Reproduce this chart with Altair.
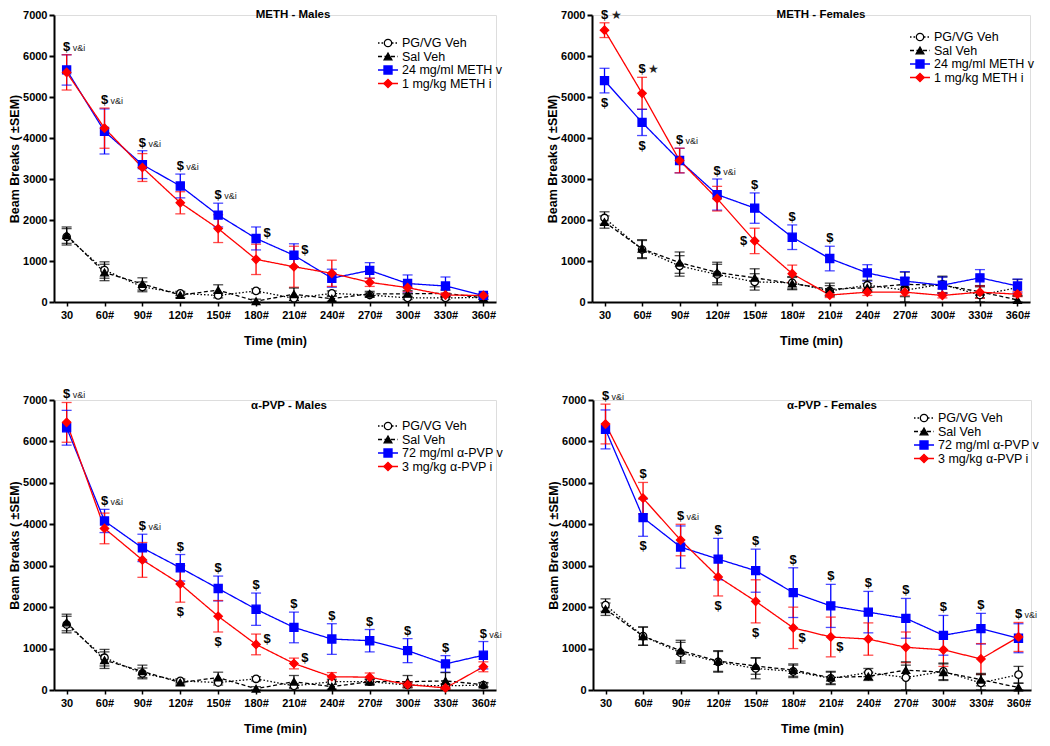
import altair as alt
import pandas as pd

times = [30, 60, 90, 120, 150, 180, 210, 240, 270, 300, 330, 360]
series_keys = ["pg", "sal", "v", "i"]

# ---------------- METH - Males ----------------
mm_pg = [1590, 780, 370, 210, 160, 270, 90, 210, 170, 100, 100, 110]
mm_pg_sem = [200, 200, 120, 50, 60, 50, 50, 60, 50, 40, 40, 40]
mm_sal = [1630, 720, 440, 170, 290, 20, 190, 80, 200, 200, 210, 100]
mm_sal_sem = [200, 200, 150, 60, 130, 50, 150, 60, 60, 80, 80, 40]
mm_v = [5660, 4160, 3350, 2830, 2120, 1550, 1140, 580, 770, 450, 390, 160]
mm_v_sem = [370, 550, 340, 290, 290, 280, 280, 220, 190, 210, 220, 40]
mm_i = [5600, 4240, 3280, 2420, 1790, 1040, 860, 700, 480, 350, 170, 160]
mm_i_sem = [430, 490, 340, 270, 340, 370, 500, 320, 100, 100, 50, 40]

# ---------------- METH - Females ----------------
mf_pg = [2050, 1280, 880, 670, 490, 470, 270, 410, 290, 430, 170, 350]
mf_pg_sem = [150, 220, 250, 250, 200, 150, 130, 120, 300, 200, 200, 200]
mf_sal = [1950, 1300, 960, 720, 590, 450, 310, 350, 430, 410, 250, 50]
mf_sal_sem = [150, 220, 260, 250, 220, 150, 150, 100, 300, 200, 150, 100]
mf_v = [5400, 4380, 3450, 2620, 2290, 1580, 1060, 710, 510, 410, 590, 390]
mf_v_sem = [300, 320, 300, 380, 370, 300, 300, 200, 230, 200, 200, 170]
mf_i = [6630, 5090, 3450, 2520, 1490, 690, 170, 240, 240, 160, 240, 190]
mf_i_sem = [180, 390, 300, 300, 310, 210, 60, 80, 80, 60, 150, 60]

# ---------------- a-PVP - Males ----------------
pm_pg = [1580, 780, 400, 220, 180, 270, 100, 200, 200, 120, 100, 120]
pm_pg_sem = [200, 200, 130, 50, 60, 50, 50, 60, 60, 50, 50, 50]
pm_sal = [1630, 720, 450, 180, 300, 30, 200, 80, 200, 200, 220, 130]
pm_sal_sem = [200, 200, 150, 60, 130, 50, 150, 60, 60, 150, 200, 50]
pm_v = [6330, 4080, 3430, 2950, 2450, 1950, 1510, 1230, 1190, 950, 630, 840]
pm_v_sem = [420, 280, 330, 320, 300, 390, 370, 370, 270, 290, 200, 330]
pm_i = [6460, 3900, 3140, 2560, 1780, 1100, 640, 320, 310, 130, 50, 560]
pm_i_sem = [480, 370, 420, 440, 380, 250, 130, 100, 100, 60, 30, 120]

# ---------------- a-PVP - Females ----------------
pf_pg = [2050, 1300, 900, 680, 520, 450, 280, 420, 300, 450, 170, 370]
pf_pg_sem = [150, 220, 250, 250, 250, 150, 150, 100, 300, 200, 200, 200]
pf_sal = [1950, 1300, 950, 700, 580, 480, 300, 330, 480, 430, 250, 60]
pf_sal_sem = [150, 220, 250, 250, 200, 150, 150, 100, 200, 200, 150, 100]
pf_v = [6290, 4160, 3450, 3160, 2880, 2350, 2030, 1880, 1730, 1320, 1480, 1250]
pf_v_sem = [470, 450, 510, 500, 520, 600, 520, 500, 480, 480, 370, 350]
pf_i = [6420, 4630, 3620, 2730, 2140, 1500, 1280, 1230, 1030, 970, 750, 1280]
pf_i_sem = [480, 380, 380, 460, 520, 500, 480, 390, 370, 400, 370, 350]

meth_labels = ["PG/VG Veh", "Sal Veh", "24 mg/ml METH v", "1 mg/kg METH i"]
pvp_labels = ["PG/VG Veh", "Sal Veh", "72 mg/ml \u03b1-PVP v", "3 mg/kg \u03b1-PVP i"]

# significance annotations: (time, anchor series, placement, suffix)
mm_ann = [(30, "i", "above", "v&i"), (60, "i", "above", "v&i"), (90, "v", "above", "v&i"),
          (120, "v", "above", "v&i"), (150, "v", "above", "v&i"),
          (180, "v", "right", ""), (210, "v", "right", "")]
mf_ann = [(30, "i", "above", "\u2605"), (60, "i", "above", "\u2605"), (30, "v", "below", ""),
          (60, "v", "below", ""), (90, "i", "above", "v&i"), (120, "v", "above", "v&i"),
          (150, "v", "above", ""), (180, "v", "above", ""), (210, "v", "above", ""),
          (150, "i", "left", "")]
pm_ann = [(30, "i", "above", "v&i"), (60, "v", "above", "v&i"), (90, "v", "above", "v&i"),
          (120, "v", "above", ""), (150, "v", "above", ""), (180, "v", "above", ""),
          (210, "v", "above", ""), (240, "v", "above", ""), (270, "v", "above", ""),
          (300, "v", "above", ""), (330, "v", "above", ""), (360, "v", "above", "v&i"),
          (120, "i", "below", ""), (150, "i", "below", ""), (180, "i", "right", ""),
          (210, "i", "right", "")]
pf_ann = [(30, "i", "above", "v&i"), (60, "i", "above", ""), (60, "v", "below", ""),
          (90, "i", "above", "v&i"), (120, "v", "above", ""), (150, "v", "above", ""),
          (180, "v", "above", ""), (210, "v", "above", ""), (240, "v", "above", ""),
          (270, "v", "above", ""), (300, "v", "above", ""), (330, "v", "above", ""),
          (360, "i", "above", "v&i"), (120, "i", "below", ""), (150, "i", "below", ""),
          (180, "i", "rightbelow", ""), (210, "i", "rightbelow", "")]

XDOM = [20, 370]
YMAX = 7000
FONT = "Liberation Sans"

panels = [
    dict(title="METH - Males", labels=meth_labels, ann=mm_ann, w=442, h=287,
         title_x=239, title_y=0, leg_x=348, leg_top=28,
         data={"pg": (mm_pg, mm_pg_sem), "sal": (mm_sal, mm_sal_sem),
               "v": (mm_v, mm_v_sem), "i": (mm_i, mm_i_sem)}),
    dict(title="METH - Females", labels=meth_labels, ann=mf_ann, w=438, h=287,
         title_x=229, title_y=0, leg_x=342, leg_top=22,
         data={"pg": (mf_pg, mf_pg_sem), "sal": (mf_sal, mf_sal_sem),
               "v": (mf_v, mf_v_sem), "i": (mf_i, mf_i_sem)}),
    dict(title="\u03b1-PVP - Males", labels=pvp_labels, ann=pm_ann, w=442, h=290,
         title_x=235, title_y=6, leg_x=348, leg_top=26,
         data={"pg": (pm_pg, pm_pg_sem), "sal": (pm_sal, pm_sal_sem),
               "v": (pm_v, pm_v_sem), "i": (pm_i, pm_i_sem)}),
    dict(title="\u03b1-PVP - Females", labels=pvp_labels, ann=pf_ann, w=438, h=290,
         title_x=239, title_y=6, leg_x=345, leg_top=18,
         data={"pg": (pf_pg, pf_pg_sem), "sal": (pf_sal, pf_sal_sem),
               "v": (pf_v, pf_v_sem), "i": (pf_i, pf_i_sem)}),
]

color_scale = alt.Scale(domain=series_keys, range=["#000000", "#000000", "#0000ff", "#ff0000"])
fill_scale = alt.Scale(domain=series_keys, range=["#ffffff", "#000000", "#0000ff", "#ff0000"])
shape_scale = alt.Scale(domain=series_keys, range=["circle", "triangle-up", "square", "diamond"])
dash_scale = alt.Scale(domain=series_keys, range=[[1.5, 2], [4, 2.5], [1, 0], [1, 0]])
size_scale = alt.Scale(domain=series_keys, range=[55, 70, 70, 110])

x_axis = alt.Axis(values=times, labelExpr="datum.value == 30 ? '30' : datum.value + '#'",
                  title="Time (min)", grid=False, domainColor="black", domainWidth=2,
                  tickColor="black", tickWidth=1.5, tickSize=4, labelFontSize=11,
                  labelFontWeight="bold", labelColor="black", labelPadding=3,
                  titleFontSize=12.5, titleFontWeight="bold", titlePadding=14,
                  titleColor="black", labelFont=FONT, titleFont=FONT)
y_axis = alt.Axis(values=list(range(0, YMAX + 1, 1000)), format="d",
                  title="Beam Breaks ( \u00b1SEM)",
                  grid=False, domainColor="black", domainWidth=2, tickColor="black",
                  tickWidth=2, tickSize=5, labelFontSize=11, labelFontWeight="bold",
                  labelColor="black", labelPadding=2, titleFontSize=12.5,
                  titleFontWeight="bold", titleColor="black", titlePadding=1,
                  labelFont=FONT, titleFont=FONT)
x_scale = alt.Scale(domain=XDOM, nice=False, zero=False)
y_scale = alt.Scale(domain=[0, YMAX], nice=False)

# pixel offsets (dx, dy-up) of the "$" marks relative to their anchors
PX = {"above": (0, 8), "below": (0, -10), "right": (11, 5), "left": (-11, 0),
      "rightbelow": (9, -10.5)}


def X(field):
    return alt.X(field, scale=x_scale, axis=x_axis)


def Y(field):
    return alt.Y(field, scale=y_scale, axis=y_axis)


def make_panel(p):
    W, H = p["w"], p["h"]
    YU = YMAX / H
    XU = (XDOM[1] - XDOM[0]) / W
    rows = []
    for s in series_keys:
        vals, sems = p["data"][s]
        for t, v, e in zip(times, vals, sems):
            rows.append(dict(series=s, time=t, value=v, lo=max(v - e, 0), hi=v + e))
    df = pd.DataFrame(rows)
    base = alt.Chart(df)

    lines = base.mark_line(strokeWidth=1.3).encode(
        x=X("time:Q"), y=Y("value:Q"),
        color=alt.Color("series:N", scale=color_scale, legend=None),
        strokeDash=alt.StrokeDash("series:N", scale=dash_scale, legend=None),
        detail="series:N")
    err = base.mark_rule(strokeWidth=1.3).encode(
        x=X("time:Q"), y=Y("lo:Q"), y2="hi:Q",
        color=alt.Color("series:N", scale=color_scale, legend=None))
    cap_lo = base.mark_tick(orient="horizontal", size=10, thickness=1.3).encode(
        x=X("time:Q"), y=Y("lo:Q"),
        color=alt.Color("series:N", scale=color_scale, legend=None))
    cap_hi = base.mark_tick(orient="horizontal", size=10, thickness=1.3).encode(
        x=X("time:Q"), y=Y("hi:Q"),
        color=alt.Color("series:N", scale=color_scale, legend=None))
    pts = base.mark_point(filled=True, opacity=1, strokeWidth=1.3).encode(
        x=X("time:Q"), y=Y("value:Q"),
        shape=alt.Shape("series:N", scale=shape_scale, legend=None),
        fill=alt.Fill("series:N", scale=fill_scale, legend=None),
        stroke=alt.Stroke("series:N", scale=color_scale, legend=None),
        size=alt.Size("series:N", scale=size_scale, legend=None))

    # annotations, anchored to the series values and SEM
    arows = []
    for t, s, place, suffix in p["ann"]:
        vals, sems = p["data"][s]
        k = times.index(t)
        if place == "above":
            anchor = vals[k] + sems[k]
        elif place == "below":
            anchor = vals[k] - sems[k]
        else:
            anchor = vals[k]
        dxp, dyp = PX[place]
        arows.append(dict(time=t + dxp * XU, value=anchor + dyp * YU, main="$",
                          stime=t + (dxp + 6) * XU,
                          svalue=anchor + (dyp - (1 if suffix == "v&i" else 0)) * YU,
                          suffix=suffix, fs=9 if suffix == "v&i" else 12))
    adf = pd.DataFrame(arows)
    ann_main = alt.Chart(adf).mark_text(fontSize=13, fontWeight="bold", color="black",
                                        baseline="middle", align="center", font=FONT).encode(
        x=X("time:Q"), y=Y("value:Q"), text="main:N")
    ann_suf = alt.Chart(adf).transform_filter("datum.suffix != ''").mark_text(
        color="#222222", baseline="middle", align="left", font=FONT).encode(
        x=X("stime:Q"), y=Y("svalue:Q"), text="suffix:N",
        size=alt.Size("fs:Q", scale=None, legend=None))

    title = alt.Chart(pd.DataFrame({"t": [p["title"]]})).mark_text(
        fontWeight="bold", fontSize=11.5, color="black", baseline="middle", font=FONT).encode(
        text="t:N", x=alt.value(p["title_x"]), y=alt.value(p["title_y"]))

    # hand-made legend in the top-right corner
    ldf = pd.DataFrame({"series": series_keys, "label": p["labels"], "idx": [0, 1, 2, 3]})
    lbase = alt.Chart(ldf).transform_calculate(ly=f"{p['leg_top']} + datum.idx * 13.5")
    tx = p["leg_x"]
    sx = tx - 14
    lrule = lbase.mark_rule(strokeWidth=1.3).encode(
        x=alt.value(sx - 10), x2=alt.value(sx + 10),
        y=alt.Y("ly:Q", scale=None, axis=None),
        color=alt.Color("series:N", scale=color_scale, legend=None),
        strokeDash=alt.StrokeDash("series:N", scale=dash_scale, legend=None))
    lpts = lbase.mark_point(filled=True, opacity=1, strokeWidth=1.3).encode(
        x=alt.value(sx), y=alt.Y("ly:Q", scale=None, axis=None),
        shape=alt.Shape("series:N", scale=shape_scale, legend=None),
        fill=alt.Fill("series:N", scale=fill_scale, legend=None),
        stroke=alt.Stroke("series:N", scale=color_scale, legend=None),
        size=alt.Size("series:N", scale=size_scale, legend=None))
    ltext = lbase.mark_text(align="left", baseline="middle", fontSize=12.5,
                            color="black", font=FONT).encode(
        x=alt.value(tx), y=alt.Y("ly:Q", scale=None, axis=None), text="label:N")

    return alt.layer(lines, err, cap_lo, cap_hi, pts, ann_main, ann_suf, title,
                     lrule, lpts, ltext).properties(width=W, height=H)


p1, p2, p3, p4 = [make_panel(p) for p in panels]
chart = alt.vconcat(
    alt.hconcat(p1, p2, spacing=43),
    alt.hconcat(p3, p4, spacing=43),
    spacing=40,
).properties(
    padding={"left": 0, "top": 0, "right": 0, "bottom": 0},
    background="white",
).configure_view(stroke=None).configure(font=FONT)

chart.save("out.html", embed_options={"renderer": "svg", "actions": False})
